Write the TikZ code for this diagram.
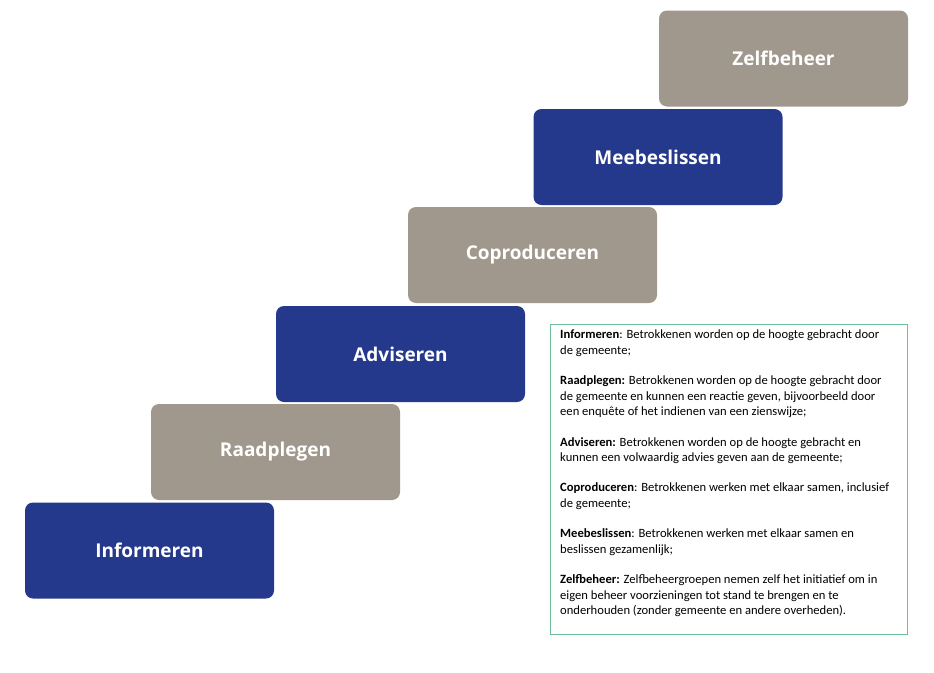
\documentclass[tikz,border=0pt]{standalone}
\usepackage{fontspec}
\setmainfont{Carlito}
\newfontfamily\stepfont{Open Sans}
\definecolor{stepblue}{HTML}{25398C}
\definecolor{stepgray}{HTML}{A0988D}
\definecolor{boxgreen}{HTML}{6CBF98}
\begin{document}
\begin{tikzpicture}[x=1pt,y=-1pt,
  stepbox/.style={rounded corners=8pt,minimum width=249pt,minimum height=96pt,inner sep=0pt,text=white,font=\stepfont\bfseries\fontsize{19}{22}\selectfont},
  sblue/.style={stepbox,fill=stepblue},
  sgray/.style={stepbox,fill=stepgray}]
\useasboundingbox (0,0) rectangle (934,672);
\node[sblue] (inf) at (149.5,550.5) {Informeren};
\node[sgray] (raa) at (275.5,452) {Raadplegen};
\node[sblue] (adv) at (400.5,354) {Adviseren};
\node[sgray] (cop) at (532.5,255) {Coproduceren};
\node[sblue] (mee) at (658,157) {Meebeslissen};
\node[sgray] (zel) at (783.5,58.5) {Zelfbeheer};
\node[draw=boxgreen,line width=1.8pt,minimum width=357pt,minimum height=310pt,inner sep=0pt] (box) at (729,479.5) {};
\node[anchor=north west,inner sep=0pt,align=left,font=\fontsize{12.6}{15.3}\selectfont] (txt) at (560,330) {%
\textbf{Informeren}: Betrokkenen worden op de hoogte gebracht door\\
de gemeente;\\[15.3pt]
\textbf{Raadplegen:} Betrokkenen worden op de hoogte gebracht door\\
de gemeente en kunnen een reactie geven, bijvoorbeeld door\\
een enquête of het indienen van een zienswijze;\\[15.3pt]
\textbf{Adviseren:} Betrokkenen worden op de hoogte gebracht en\\
kunnen een volwaardig advies geven aan de gemeente;\\[15.3pt]
\textbf{Coproduceren}: Betrokkenen werken met elkaar samen, inclusief\\
de gemeente;\\[15.3pt]
\textbf{Meebeslissen}: Betrokkenen werken met elkaar samen en\\
beslissen gezamenlijk;\\[15.3pt]
\textbf{Zelfbeheer:} Zelfbeheergroepen nemen zelf het initiatief om in\\
eigen beheer voorzieningen tot stand te brengen en te\\
onderhouden (zonder gemeente en andere overheden).};
\end{tikzpicture}
\end{document}
